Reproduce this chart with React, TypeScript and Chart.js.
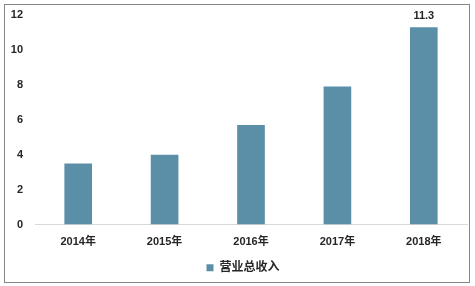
import React, { useEffect, useRef } from "react";
import { Chart, registerables } from "chart.js";

Chart.register(...registerables);

const categories = ["2014年", "2015年", "2016年", "2017年", "2018年"];
const revenue = [3.5, 4.0, 5.7, 7.9, 11.3];
const seriesName = "营业总收入";
const labeledIndices = [4];
const yMin = 0;
const yMax = 12;
const yStep = 2;

const FONT = "'Liberation Sans', 'Noto Sans CJK SC', sans-serif";
const BAR_COLOR = "#5b8fa7";
const TEXT_COLOR = "#262626";

const valueLabelPlugin = {
  id: "valueLabels",
  afterDatasetsDraw(chart: any) {
    const ctx = chart.ctx;
    const meta = chart.getDatasetMeta(0);
    ctx.save();
    ctx.font = `bold 11px ${FONT}`;
    ctx.fillStyle = TEXT_COLOR;
    ctx.textAlign = "center";
    ctx.textBaseline = "bottom";
    labeledIndices.forEach((i) => {
      const el = meta.data[i];
      if (el) ctx.fillText(String(revenue[i]), el.x, el.y - 6);
    });
    ctx.restore();
  },
};

export default function App() {
  const ref = useRef<HTMLCanvasElement | null>(null);

  useEffect(() => {
    if (!ref.current) return;
    const chart = new Chart(ref.current, {
      type: "bar",
      data: {
        labels: categories,
        datasets: [
          {
            label: seriesName,
            data: revenue,
            backgroundColor: BAR_COLOR,
            borderWidth: 0,
            barPercentage: 0.32,
            categoryPercentage: 1,
          },
        ],
      },
      options: {
        responsive: false,
        animation: false,
        devicePixelRatio: 1,
        layout: { padding: { left: 19, right: 8, top: 15, bottom: 2.3 } },
        scales: {
          x: {
            grid: { display: false, drawTicks: false },
            border: { display: true, color: "#d9d9d9", width: 1 },
            ticks: {
              color: TEXT_COLOR,
              padding: 10.5,
              font: { family: FONT, size: 11, weight: "bold" },
            },
          },
          y: {
            min: yMin,
            max: yMax,
            grid: { display: false, drawTicks: false },
            border: { display: false },
            ticks: {
              stepSize: yStep,
              color: TEXT_COLOR,
              padding: 12,
              font: { family: FONT, size: 11, weight: "bold" },
            },
            afterFit(scale: any) {
              scale.width = 16;
              scale.paddingTop = 0;
              scale._computeLabelArea = () => undefined;
            },
          },
        },
        plugins: {
          legend: {
            position: "bottom",
            labels: {
              boxWidth: 7,
              boxHeight: 7,
              padding: 3,
              color: TEXT_COLOR,
              font: { family: FONT, size: 12, weight: "bold" },
            },
          },
          tooltip: { enabled: false },
        },
      },
      plugins: [valueLabelPlugin],
    });
    return () => chart.destroy();
  }, []);

  return (
    <div style={{ position: "fixed", left: 0, top: 0, width: 475, height: 286, background: "#fff" }}>
      <div
        style={{
          position: "absolute",
          left: 4,
          top: 4,
          width: 466,
          height: 279,
          boxSizing: "border-box",
          border: "1px solid #868686",
        }}
      />
      <canvas
        ref={ref}
        width={475}
        height={286}
        style={{ position: "absolute", left: 0, top: 0, width: 475, height: 286 }}
      />
    </div>
  );
}
